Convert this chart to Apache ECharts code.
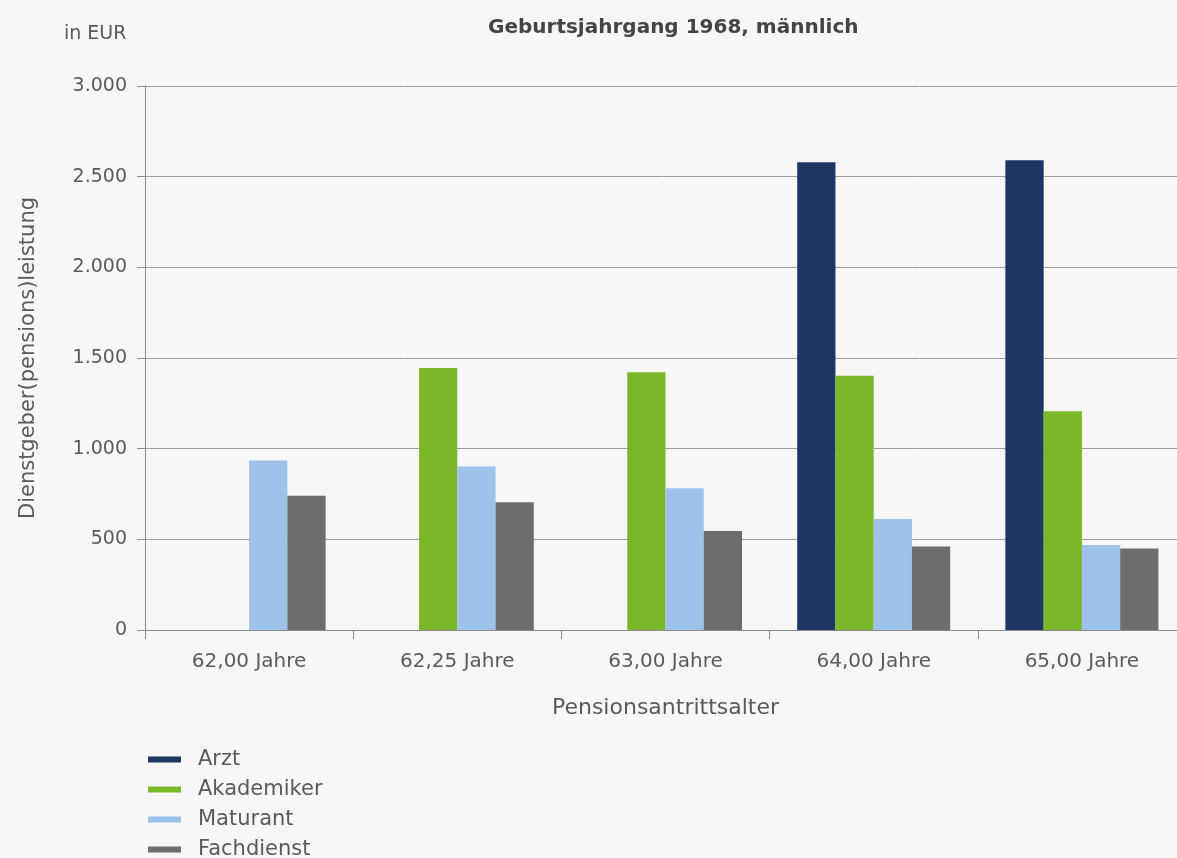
<!DOCTYPE html>
<html>
<head>
<meta charset="utf-8">
<script src="https://cdn.jsdelivr.net/npm/echarts@6/dist/echarts.min.js"></script>
<style>
html,body{margin:0;padding:0;background:#f7f7f7;}
#main{width:1177px;height:858px;}
</style>
</head>
<body>
<div id="main"></div>
<script>
const categories = ['62,00 Jahre', '62,25 Jahre', '63,00 Jahre', '64,00 Jahre', '65,00 Jahre'];
const seriesNames = ['Arzt', 'Akademiker', 'Maturant', 'Fachdienst'];
const arzt = [null, null, null, 2580, 2590];
const akademiker = [null, 1445, 1422, 1402, 1207];
const maturant = [935, 902, 782, 612, 469];
const fachdienst = [740, 705, 546, 461, 450];
const colors = ['#1f3562', '#7ab82a', '#9dc3ea', '#6d6d6d'];
const yTicks = { min: 0, max: 3000, interval: 500 };

const chart = echarts.init(document.getElementById('main'));
const font = 'DejaVu Sans';
const txt = '#5a5a5a';
const values = [arzt, akademiker, maturant, fachdienst];

chart.setOption({
  backgroundColor: '#f7f7f7',
  animation: false,
  title: [
    { text: 'Geburtsjahrgang 1968, männlich', left: 483, top: 13,
      textStyle: { fontFamily: font, fontWeight: 'bold', fontSize: 20, color: '#444444' } },
    { text: 'in EUR', left: 59, top: 20,
      textStyle: { fontFamily: font, fontWeight: 'normal', fontSize: 19, color: txt } }
  ],
  legend: {
    orient: 'vertical', left: 148, top: 749, width: 300, height: 140, padding: 0,
    itemWidth: 33, itemHeight: 6, itemGap: 9,
    icon: 'rect',
    data: seriesNames,
    textStyle: { fontFamily: font, fontSize: 21, color: txt, padding: [0, 0, 0, 12] }
  },
  grid: { left: 145, right: -9, top: 86, bottom: 228, outerBoundsMode: 'none', containLabel: false },
  xAxis: {
    type: 'category', data: categories,
    axisLine: { show: true, lineStyle: { color: '#8a8a8a', width: 1 } },
    axisTick: { show: true, length: 9, lineStyle: { color: '#8a8a8a' } },
    axisLabel: { fontFamily: font, fontSize: 20, color: txt, margin: 22 },
    name: 'Pensionsantrittsalter', nameLocation: 'middle', nameGap: 67,
    nameTextStyle: { fontFamily: font, fontSize: 22, color: txt }
  },
  yAxis: {
    type: 'value', min: yTicks.min, max: yTicks.max, interval: yTicks.interval,
    axisLine: { show: true, lineStyle: { color: '#8a8a8a', width: 1 } },
    axisTick: { show: true, length: 8, lineStyle: { color: '#8a8a8a' } },
    splitLine: { show: true, lineStyle: { color: '#9a9a9a', width: 1 } },
    axisLabel: { fontFamily: font, fontSize: 19, color: txt, margin: 18,
      formatter: v => v >= 1000 ? Math.floor(v / 1000) + '.' + String(v % 1000).padStart(3, '0') : String(v) },
    name: 'Dienstgeber(pensions)leistung', nameLocation: 'middle', nameGap: 106, nameRotate: 90,
    nameTextStyle: { fontFamily: font, fontSize: 21, color: txt }
  },
  series: seriesNames.map((n, i) => ({
    name: n, type: 'bar', data: values[i],
    barGap: '0%', barCategoryGap: '26.5%',
    itemStyle: { color: colors[i] }
  }))
});
</script>
</body>
</html>
